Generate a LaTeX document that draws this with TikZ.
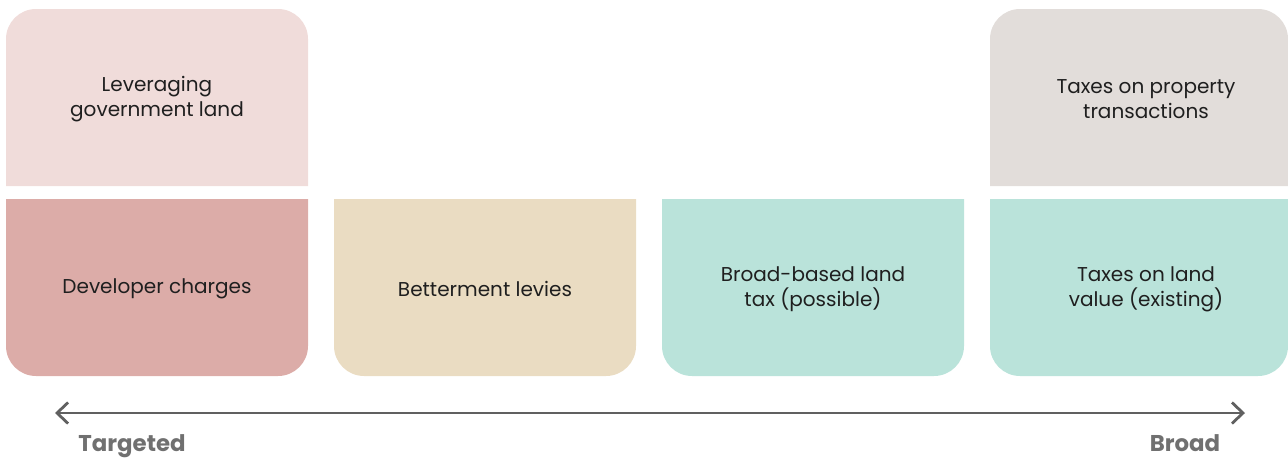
\documentclass[tikz,border=0pt]{standalone}
\usepackage{fontspec}
\setmainfont{Poppins}
\usetikzlibrary{arrows.meta}

\definecolor{govland}{HTML}{F0DCDA}
\definecolor{devcharge}{HTML}{DCACA8}
\definecolor{betterment}{HTML}{EADCC2}
\definecolor{landtax}{HTML}{BAE3DA}
\definecolor{transtax}{HTML}{E2DDDA}
\definecolor{scalegray}{HTML}{606060}

\tikzset{
  boxtext/.style={align=center, text=black!88, font=\fontsize{11.4}{14}\selectfont},
  endtext/.style={anchor=base, text=scalegray!90, font=\bfseries\fontsize{13}{15}\selectfont},
}

\begin{document}
\begin{tikzpicture}[x=0.02cm, y=-0.02cm]
      \useasboundingbox (0,0) rectangle (1288,457);

      % upper row
      \fill[govland] (6,186) -- (6,100) [rounded corners=0.6cm] -- (6,9) -- (308,9) -- (308,100) [sharp corners] -- (308,186) -- cycle;
      \fill[transtax] (990,186) -- (990,100) [rounded corners=0.6cm] -- (990,9) -- (1288,9) -- (1288,100) [sharp corners] -- (1288,186) -- cycle;
      \node[boxtext] (govland) at (157,99) {Leveraging\\government land};
      \node[boxtext] (transtax) at (1146,99) {Taxes on property\\transactions};

      % lower row
      \fill[devcharge] (6,199) -- (6,290) [rounded corners=0.6cm] -- (6,376) -- (308,376) -- (308,290) [sharp corners] -- (308,199) -- cycle;
      \fill[betterment] (334,199) -- (334,290) [rounded corners=0.6cm] -- (334,376) -- (636,376) -- (636,290) [sharp corners] -- (636,199) -- cycle;
      \fill[landtax] (662,199) -- (662,290) [rounded corners=0.6cm] -- (662,376) -- (964,376) -- (964,290) [sharp corners] -- (964,199) -- cycle;
      \fill[landtax] (990,199) -- (990,290) [rounded corners=0.6cm] -- (990,376) -- (1288,376) -- (1288,290) [sharp corners] -- (1288,199) -- cycle;
      \node[boxtext] (devcharge) at (157,289) {Developer charges};
      \node[boxtext] (betterment) at (485,289) {Betterment levies};
      \node[boxtext] (broadtax) at (813,289) {Broad-based land\\tax (possible)};
      \node[boxtext] (valuetax) at (1146,289) {Taxes on land\\value (existing)};

      % scale
      \coordinate (targetend) at (55,413);
      \coordinate (broadend) at (1245,413);
      \draw[scalegray, line width=1.6pt, {Straight Barb[length=0.22cm, width=0.42cm]}-{Straight Barb[length=0.22cm, width=0.42cm]}] (targetend) -- (broadend);
      \node[endtext] (targeted) at (132,451) {Targeted};
      \node[endtext] (broad) at (1185,451) {Broad};
    \end{tikzpicture}
\end{document}
